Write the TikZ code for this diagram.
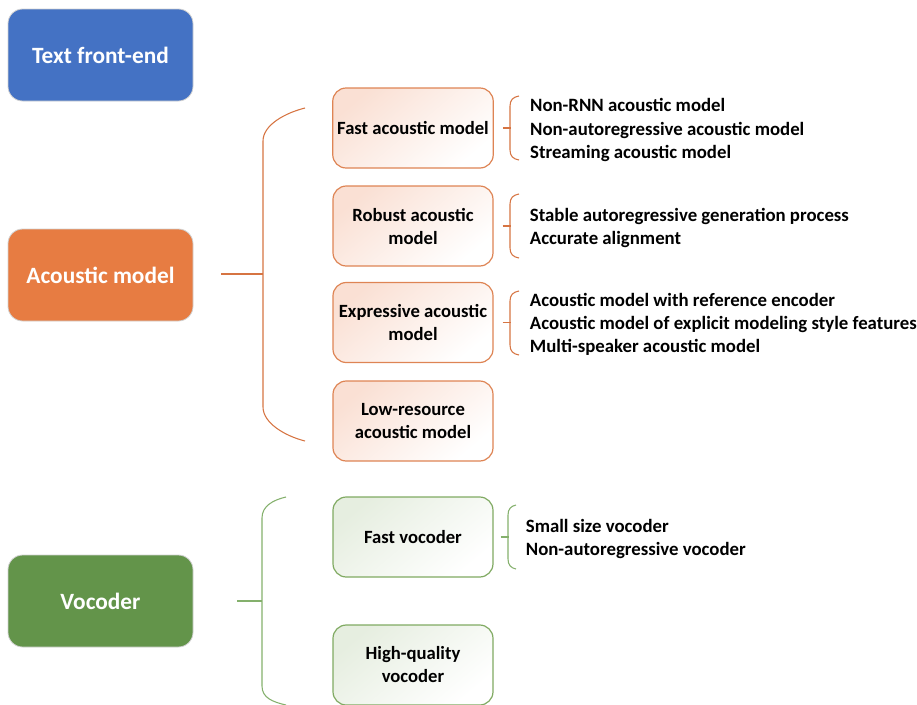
\documentclass[tikz,border=0pt]{standalone}
\usepackage{fontspec}
\setmainfont{Carlito}
\usetikzlibrary{positioning}

\definecolor{frontBlue}{RGB}{68,114,196}
\definecolor{acoOrange}{RGB}{231,124,66}
\definecolor{vocGreen}{RGB}{99,148,74}
\definecolor{acoLine}{RGB}{222,132,84}
\definecolor{acoFill}{RGB}{250,224,212}
\definecolor{acoBrace}{RGB}{214,116,66}
\definecolor{vocLine}{RGB}{128,170,98}
\definecolor{vocFill}{RGB}{230,238,224}
\definecolor{vocBrace}{RGB}{132,176,108}

\begin{document}
\begin{tikzpicture}[x=0.75pt, y=-0.75pt,
      main/.style={rectangle, rounded corners=11pt, draw=black!18, line width=0.6pt, text=white, font=\bfseries\fontsize{17.5}{20}\selectfont, minimum width=138.75pt, minimum height=69pt},
      sub/.style={rectangle, rounded corners=10pt, line width=0.9pt, font=\bfseries\fontsize{14}{17.25}\selectfont, align=center, minimum width=120pt, minimum height=60pt},
      aco/.style={sub, draw=acoLine, top color=acoFill, bottom color=white, shading angle=40},
      voc/.style={sub, draw=vocLine, top color=vocFill, bottom color=white, shading angle=40},
      items/.style={align=left, inner sep=0pt, yshift=-1.5pt, font=\bfseries\fontsize{14.1}{17.4}\selectfont},
      brace/.style={line width=0.8pt},
    ]
      \useasboundingbox (0,0) rectangle (917,704);

      \node[main, fill=frontBlue] (front) at (100.5,55) {Text front-end};
      \node[main, fill=acoOrange] (acoustic) at (100.5,275) {Acoustic model};
      \node[main, fill=vocGreen] (vocoder) at (100.5,601) {Vocoder};

      \node[aco] (fastAco) at (413,128) {Fast acoustic model};
      \node[aco] (robustAco) at (413,226) {Robust acoustic\\model};
      \node[aco] (exprAco) at (413,322.5) {Expressive acoustic\\model};
      \node[aco] (lowAco) at (413,421) {Low-resource\\acoustic model};

      \node[voc] (fastVoc) at (413,537) {Fast vocoder};
      \node[voc] (hqVoc) at (413,665) {High-quality\\vocoder};

      \node[items, right=27pt of fastAco] (fastItems) {Non-RNN acoustic model\\Non-autoregressive acoustic model\\Streaming acoustic model};
      \node[items, right=27pt of robustAco] (robustItems) {Stable autoregressive generation process\\Accurate alignment};
      \node[items, right=27pt of exprAco] (exprItems) {Acoustic model with reference encoder\\Acoustic model of explicit modeling style features\\Multi-speaker acoustic model};
      \node[items, right=24pt of fastVoc] (fastVocItems) {Small size vocoder\\Non-autoregressive vocoder};

      % big braces
      \coordinate (acoJoin) at (263,274);
      \draw[brace, acoBrace] (acoustic.east) ++(28,-1) -- (acoJoin);
      \draw[brace, acoBrace] (305,108) .. controls (285,113) and (263,125) .. (263,141) -- (263,407)
        .. controls (263,423) and (285,436) .. (305,441);

      \coordinate (vocJoin) at (262,601);
      \draw[brace, vocBrace] (vocoder.east) ++(44,0) -- (vocJoin);
      \draw[brace, vocBrace] (286,497) .. controls (273,500) and (262,506) .. (262,518) -- (262,686)
        .. controls (262,698) and (273,702) .. (286,705);

      % small braces
      \draw[brace, acoBrace] (fastAco.east) ++(9,0) -- ++(8,0);
      \draw[brace, acoBrace] (519,96) .. controls (513,97) and (510,100) .. (510,106) -- (510,150)
        .. controls (510,156) and (513,159) .. (519,160);
      \draw[brace, acoBrace] (robustAco.east) ++(9,0) -- ++(8,0);
      \draw[brace, acoBrace] (519,194) .. controls (513,195) and (510,198) .. (510,204) -- (510,248)
        .. controls (510,254) and (513,257) .. (519,258);
      \draw[brace, acoBrace] (exprAco.east) ++(9,0) -- ++(8,0);
      \draw[brace, acoBrace] (519,291) .. controls (513,292) and (510,295) .. (510,301) -- (510,345)
        .. controls (510,351) and (513,354) .. (519,355);

      \draw[brace, vocBrace] (fastVoc.east) ++(7,0) -- ++(8,0);
      \draw[brace, vocBrace] (516,505) .. controls (511,506) and (508,509) .. (508,515) -- (508,559)
        .. controls (508,565) and (511,568) .. (516,569);
    \end{tikzpicture}
\end{document}
